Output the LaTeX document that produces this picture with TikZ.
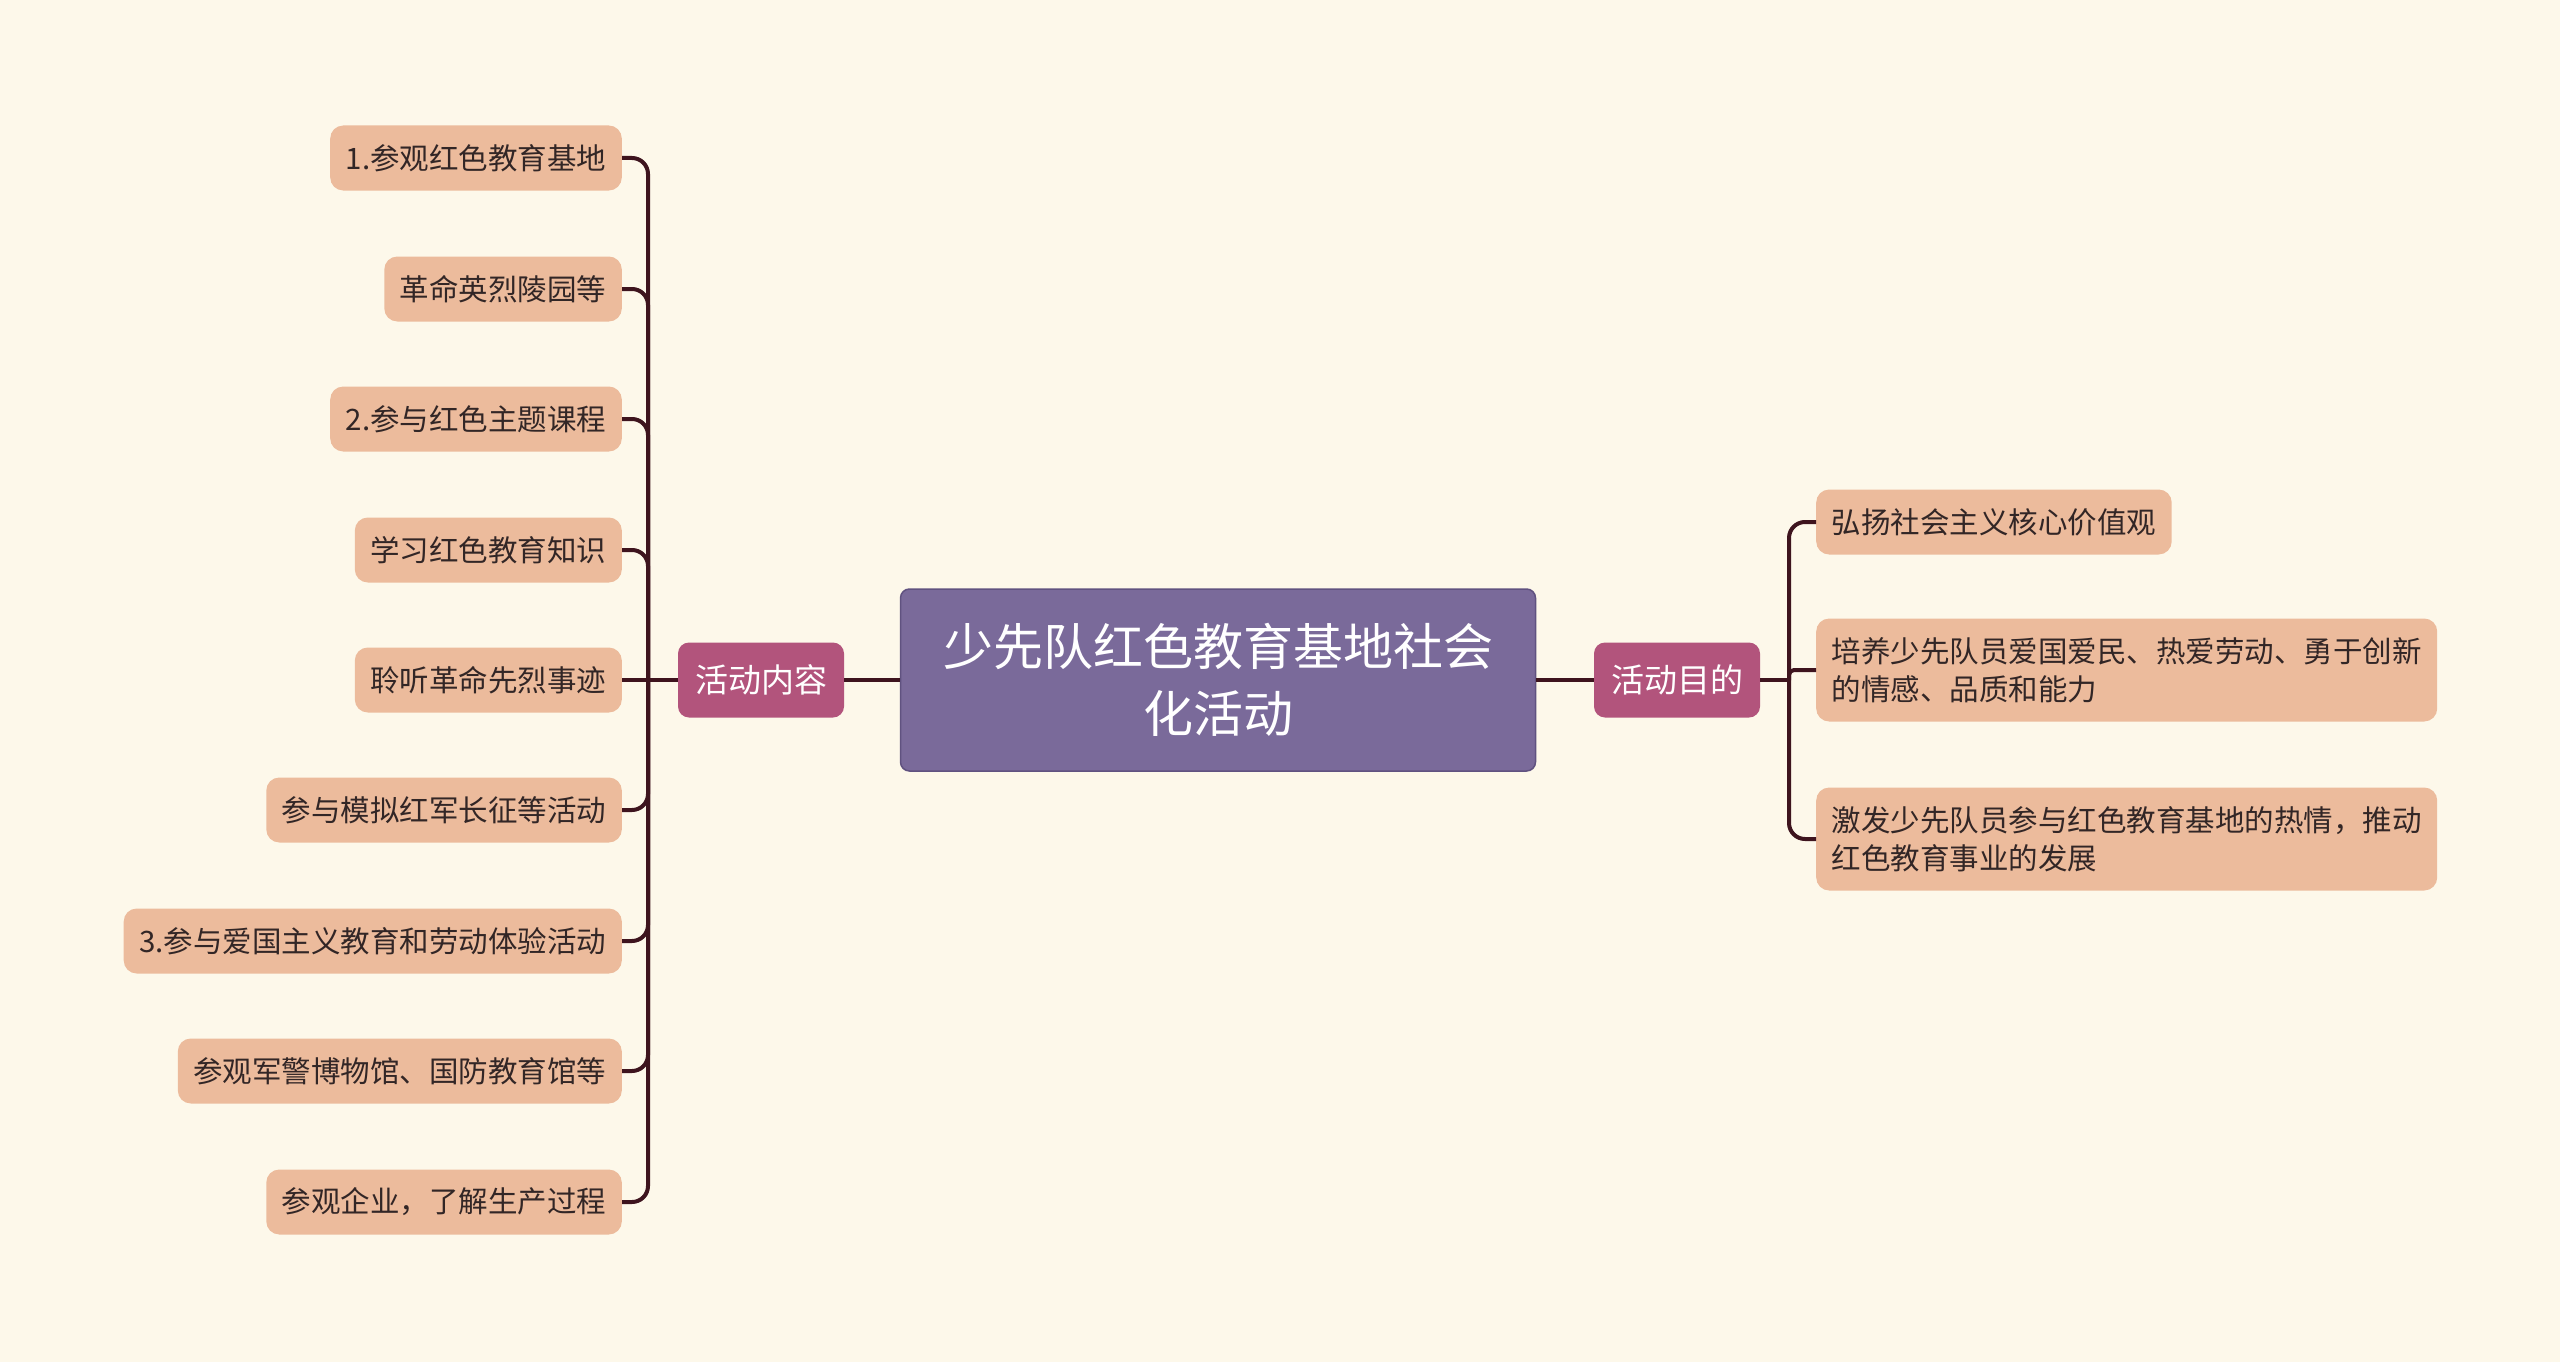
\documentclass[tikz,border=0pt]{standalone}
\usepackage{fontspec}
\setmainfont{Noto Sans CJK SC}
\definecolor{bgcream}{RGB}{253,248,234}
\definecolor{rootpurple}{RGB}{122,106,154}
\definecolor{rootedge}{RGB}{96,82,128}
\definecolor{branchrose}{RGB}{178,84,124}
\definecolor{leafpeach}{RGB}{236,187,156}
\definecolor{leafink}{RGB}{50,38,38}
\definecolor{linkdark}{RGB}{62,20,30}
\tikzset{
  topic/.style={draw=rootedge, line width=1.5pt, fill=rootpurple, text=white, rounded corners=9pt,
    minimum width=635pt, minimum height=182pt, align=center, font=\fontsize{50}{67}\selectfont},
  branch/.style={fill=branchrose, text=white, rounded corners=11pt, inner xsep=17pt, inner ysep=0pt,
    minimum height=75pt, font=\fontsize{33}{40}\selectfont},
  leaf/.style={fill=leafpeach, text=leafink, rounded corners=13pt, inner xsep=15.5pt, inner ysep=0pt,
    minimum height=65pt, align=left, font=\fontsize{29.5}{38}\selectfont},
  link/.style={draw=linkdark, line width=4pt, rounded corners=16pt}
}
\begin{document}
\begin{tikzpicture}[x=1pt,y=-1pt]
\fill[bgcream] (0,0) rectangle (2560,1362);
\useasboundingbox (0,0) rectangle (2560,1362);
\node[topic] (root) at (1218,680) {少先队红色教育基地社会\\化活动};
\node[branch] (act) at (761,680) {活动内容};
\node[branch] (aim) at (1677,680) {活动目的};
\node[leaf, anchor=east] (a1) at (622,158) {1.参观红色教育基地};
\node[leaf, anchor=east] (a2) at (622,289) {革命英烈陵园等};
\node[leaf, anchor=east] (a3) at (622,419) {2.参与红色主题课程};
\node[leaf, anchor=east] (a4) at (622,550) {学习红色教育知识};
\node[leaf, anchor=east] (a5) at (622,680) {聆听革命先烈事迹};
\node[leaf, anchor=east] (a6) at (622,810) {参与模拟红军长征等活动};
\node[leaf, anchor=east] (a7) at (622,941) {3.参与爱国主义教育和劳动体验活动};
\node[leaf, anchor=east] (a8) at (622,1071) {参观军警博物馆、国防教育馆等};
\node[leaf, anchor=east] (a9) at (622,1202) {参观企业，了解生产过程};
\node[leaf, anchor=west] (g1) at (1816,522) {弘扬社会主义核心价值观};
\node[leaf, anchor=west, minimum height=103pt] (g2) at (1816,670) {培养少先队员爱国爱民、热爱劳动、勇于创新\\的情感、品质和能力};
\node[leaf, anchor=west, minimum height=103pt] (g3) at (1816,839) {激发少先队员参与红色教育基地的热情，推动\\红色教育事业的发展};
\coordinate (actbus) at (648,680);
\coordinate (aimbus) at (1789,680);
\draw[link] (root.west) -- (act.east);
\draw[link] (root.east) -- (aim.west);
\draw[link] (act.west) -- (actbus);
\draw[link] (aim.east) -- (aimbus);
\draw[link] (actbus) |- (a1.east);
\draw[link] (actbus) |- (a2.east);
\draw[link] (actbus) |- (a3.east);
\draw[link] (actbus) |- (a4.east);
\draw[link] (actbus) -- (a5.east);
\draw[link] (actbus) |- (a6.east);
\draw[link] (actbus) |- (a7.east);
\draw[link] (actbus) |- (a8.east);
\draw[link] (actbus) |- (a9.east);
\draw[link] (aimbus) |- (g1.west);
\draw[link, rounded corners=5pt] (aimbus) |- (g2.west);
\draw[link] (aimbus) |- (g3.west);
\end{tikzpicture}
\end{document}
